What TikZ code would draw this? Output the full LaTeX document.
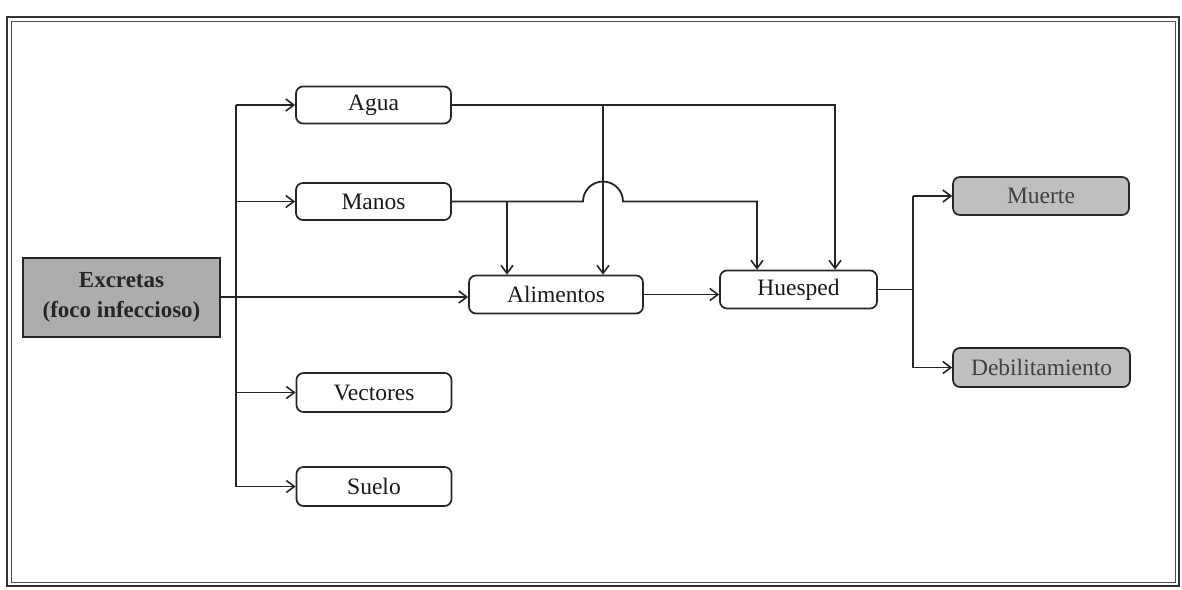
\documentclass[tikz,border=0pt]{standalone}
\usepackage{fontspec}
\setmainfont{Liberation Serif}
\usetikzlibrary{arrows.meta}
\tikzset{
  box/.style={draw=black!85, line width=1.7pt, rounded corners=7pt, inner sep=0pt,
    font=\fontsize{23.5}{26}\selectfont, text=black!90},
  shaded/.style={box, fill=black!25, text=black!75},
  source/.style={draw=black!85, line width=2pt, fill=black!32, inner sep=0pt, align=center,
    font=\fontsize{23}{30}\selectfont\bfseries, text=black!85,
    minimum width=197pt, minimum height=79pt},
  wire/.style={draw=black!85, line width=1.8pt},
  arr/.style={wire, -{Straight Barb[length=8pt,width=12pt,line width=1.6pt]}},
}
\begin{document}
\begin{tikzpicture}[x=1pt,y=-1pt]
\useasboundingbox (0,0) rectangle (1182,589);
% frame
\draw[line width=2pt, black!80] (7,17) rectangle (1179,586);
\draw[line width=1pt, black!70] (11,21) rectangle (1175,582);

% nodes
\node[source] (exc) at (121.5,297) {Excretas\\(foco infeccioso)};
\node[box, minimum width=155pt, minimum height=37pt] (agua) at (373.5,105) {Agua};
\node[box, minimum width=155pt, minimum height=37pt] (manos) at (373.5,201.5) {Manos};
\node[box, minimum width=155pt, minimum height=39pt] (vect) at (374,392.5) {Vectores};
\node[box, minimum width=155pt, minimum height=39pt] (suelo) at (374,486.5) {Suelo};
\node[box, minimum width=174pt, minimum height=38pt] (alim) at (556,294.5) {Alimentos};
\node[box, minimum width=157pt, minimum height=38pt] (hues) at (798.5,289.5) {Huesped};
\node[shaded, minimum width=176pt, minimum height=38pt] (muerte) at (1041,196) {Muerte};
\node[shaded, minimum width=177pt, minimum height=39pt] (debil) at (1041.5,367.5) {Debilitamiento};

% helper coordinates
\coordinate (jx) at (236,0);
\coordinate (ax) at (835,0);
\coordinate (bx) at (603,0);
\coordinate (mx) at (757,0);
\coordinate (cx) at (507,0);
\coordinate (hx) at (913,0);

% trunk from Excretas
\draw[wire] (agua.west -| jx) -- (suelo.west -| jx);
\draw[arr] (agua.west -| jx) -- (agua.west);
\draw[arr] (manos.west -| jx) -- (manos.west);
\draw[arr] (vect.west -| jx) -- (vect.west);
\draw[arr] (suelo.west -| jx) -- (suelo.west);
\draw[arr] (exc.east) -- (exc.east -| alim.west);

% Agua to Alimentos and Huesped
\draw[arr] (agua.east) -| (ax |- hues.north);
\draw[arr] (agua.east -| bx) -- (bx |- alim.north);

% Manos to Alimentos and Huesped (with line jump)
\draw[arr] (manos.east) -- (583,201.5)
  .. controls (583,190.5) and (592,181.5) .. (603,181.5)
  .. controls (614,181.5) and (623,190.5) .. (623,201.5)
  -- (mx |- manos.east) -- (mx |- hues.north);
\draw[arr] (manos.east -| cx) -- (cx |- alim.north);

% Alimentos to Huesped
\draw[arr] (alim.east) -- (alim.east -| hues.west);

% Huesped to outcomes
\draw[wire] (hues.east) -- (hues.east -| hx);
\draw[wire] (hx |- muerte.west) -- (hx |- debil.west);
\draw[arr] (hx |- muerte.west) -- (muerte.west);
\draw[arr] (hx |- debil.west) -- (debil.west);
\end{tikzpicture}
\end{document}
